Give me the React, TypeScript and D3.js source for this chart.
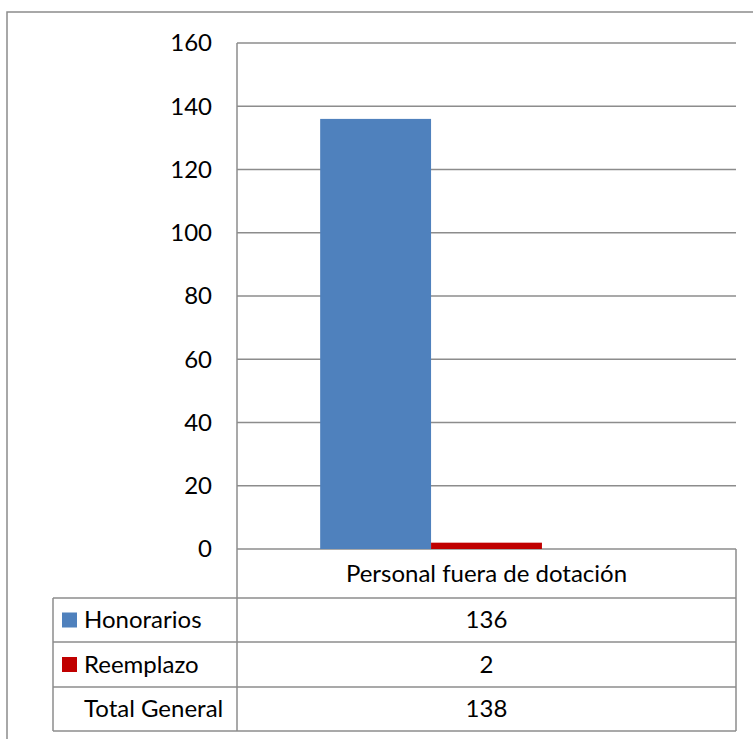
import React, { useRef, useEffect } from 'react'
import * as d3 from 'd3'

const categories = ['Personal fuera de dotación']
const seriesNames = ['Honorarios', 'Reemplazo', 'Total General']
const honorarios = [136]
const reemplazo = [2]
const totalGeneral = [138]
const yTicks = [0, 20, 40, 60, 80, 100, 120, 140, 160]

const seriesValues = [honorarios, reemplazo, totalGeneral]
const seriesColors = ['#4F81BD', '#C00000', 'none']

const App: React.FC = () => {
  const ref = useRef<SVGSVGElement>(null)

  useEffect(() => {
    if (!ref.current) return
    const svg = d3.select(ref.current)
    svg.selectAll('*').remove()

    const font = 'Lato, "Open Sans", sans-serif'
    const fontSize = '24px'
    const gridColor = '#8c8c8c'
    const plotLeft = 237
    const plotRight = 736
    const plotTop = 43
    const plotBottom = 549
    const tableLeft = 53
    const rowBottoms = [598, 642, 687, 731]

    // outer frame (right and bottom edges fall outside the picture)
    svg.append('rect')
      .attr('x', 7).attr('y', 12)
      .attr('width', 800).attr('height', 800)
      .attr('fill', 'white')
      .attr('stroke', gridColor).attr('stroke-width', 1.5)

    const y = d3.scaleLinear().domain([0, 160]).range([plotBottom, plotTop])
    const x0 = d3.scaleBand().domain(categories).range([plotLeft, plotRight])
      .paddingInner(0.2).paddingOuter(0.2)
    const x1 = d3.scaleBand().domain(seriesNames).range([0, x0.bandwidth()])

    // gridlines
    svg.append('g')
      .selectAll('line')
      .data(yTicks)
      .join('line')
      .attr('x1', plotLeft).attr('x2', plotRight)
      .attr('y1', d => y(d)).attr('y2', d => y(d))
      .attr('stroke', gridColor).attr('stroke-width', 1.5)

    // tick labels
    svg.append('g')
      .selectAll('text')
      .data(yTicks)
      .join('text')
      .attr('x', 212)
      .attr('y', d => y(d))
      .attr('dy', '0.35em')
      .attr('text-anchor', 'end')
      .style('font-family', font)
      .style('font-size', fontSize)
      .style('fill', '#000')
      .text(d => d)

    // bars
    categories.forEach((cat, ci) => {
      svg.append('g')
        .selectAll('rect')
        .data(seriesNames)
        .join('rect')
        .attr('x', s => (x0(cat) || 0) + (x1(s) || 0))
        .attr('width', x1.bandwidth())
        .attr('y', (s, si) => y(seriesValues[si][ci]))
        .attr('height', (s, si) => y(0) - y(seriesValues[si][ci]))
        .attr('fill', (s, si) => seriesColors[si])
    })

    // axis line
    svg.append('line')
      .attr('x1', plotLeft).attr('x2', plotLeft)
      .attr('y1', plotTop).attr('y2', rowBottoms[3])
      .attr('stroke', gridColor).attr('stroke-width', 1.5)

    // data table
    const t = svg.append('g')
    t.append('line')
      .attr('x1', plotRight).attr('x2', plotRight)
      .attr('y1', plotBottom).attr('y2', rowBottoms[3])
      .attr('stroke', gridColor).attr('stroke-width', 1.5)
    t.append('line')
      .attr('x1', tableLeft).attr('x2', tableLeft)
      .attr('y1', rowBottoms[0]).attr('y2', rowBottoms[3])
      .attr('stroke', gridColor).attr('stroke-width', 1.5)
    t.selectAll('line.row')
      .data(rowBottoms)
      .join('line')
      .attr('class', 'row')
      .attr('x1', tableLeft)
      .attr('x2', plotRight)
      .attr('y1', d => d).attr('y2', d => d)
      .attr('stroke', gridColor).attr('stroke-width', 1.5)

    const midX = (plotLeft + plotRight) / 2
    categories.forEach(cat => {
      t.append('text')
        .attr('x', midX)
        .attr('y', (plotBottom + rowBottoms[0]) / 2)
        .attr('dy', '0.35em')
        .attr('text-anchor', 'middle')
        .style('font-family', font)
        .style('font-size', fontSize)
        .text(cat)
    })

    seriesNames.forEach((name, si) => {
      const top = rowBottoms[si]
      const bottom = rowBottoms[si + 1]
      const cy = (top + bottom) / 2
      if (seriesColors[si] !== 'none') {
        t.append('rect')
          .attr('x', 62).attr('y', cy - 7.5)
          .attr('width', 15).attr('height', 15)
          .attr('fill', seriesColors[si])
      }
      t.append('text')
        .attr('x', 84).attr('y', cy)
        .attr('dy', '0.35em')
        .style('font-family', font)
        .style('font-size', fontSize)
        .text(name)
      t.append('text')
        .attr('x', midX).attr('y', cy)
        .attr('dy', '0.35em')
        .attr('text-anchor', 'middle')
        .style('font-family', font)
        .style('font-size', fontSize)
        .text(seriesValues[si][0])
    })
  }, [])

  return (
    <svg
      ref={ref}
      width={753}
      height={739}
      style={{ position: 'absolute', left: 0, top: 0, background: 'white' }}
    />
  )
}

export default App
